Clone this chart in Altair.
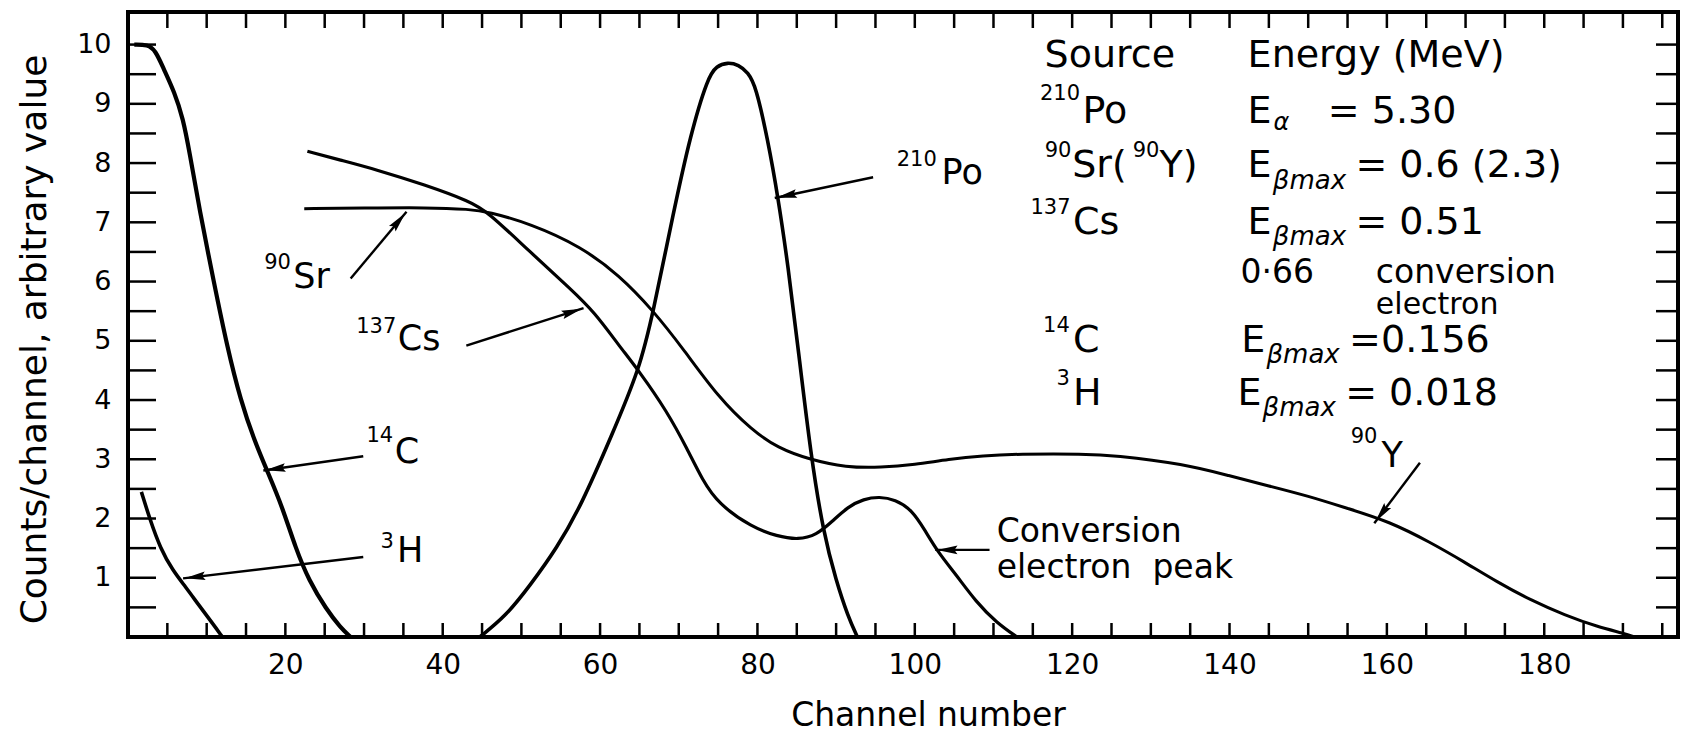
import math
import altair as alt
import pandas as pd

# ---------------- data ----------------
h3_x = [1.7, 2.8, 4.1, 5.7, 7.3, 9.1, 10.8, 12.0]
h3_y = [2.45, 1.98, 1.5, 1.12, 0.85, 0.52, 0.22, 0.0]

c14_x = [0.8, 2.5, 3.5, 4.5, 5.9, 7.0, 7.8, 9.1, 10.9, 12.6, 14.3, 16.1, 17.8, 19.6, 21.3, 23.0, 25.2, 27.0, 28.3]
c14_y = [10.0, 10.0, 9.9, 9.6, 9.2, 8.75, 8.2, 7.2, 6.0, 4.9, 4.0, 3.3, 2.77, 2.2, 1.5, 0.95, 0.47, 0.16, 0.0]

cs_x = [22.8, 27.0, 31.3, 37.8, 43.5, 45.7, 51.1, 56.3, 59.3, 62.4, 65.0, 68.5, 71.1, 73.0, 75.0,
        79.3, 82.5, 85.2, 87.5, 89.5, 91.5, 93.5, 95.5, 97.5, 99.6, 101.3, 103.0, 105.2, 107.8, 110.4, 113.0]
cs_y = [8.2, 8.05, 7.9, 7.63, 7.35, 7.18, 6.5, 5.87, 5.48, 4.92, 4.48, 3.81, 3.17, 2.65, 2.25,
        1.85, 1.7, 1.64, 1.72, 1.95, 2.2, 2.33, 2.37, 2.32, 2.15, 1.8, 1.42, 1.06, 0.59, 0.24, 0.0]

sry_x = [22.4, 30.0, 38.0, 43.5, 45.7, 51.1, 57.6, 62.4, 66.7, 70.7, 75.0, 79.3, 82.6, 86.5, 91.3,
         95.7, 100.0, 104.3, 108.7, 113.0, 121.7, 125.2, 134.3, 140.0, 145.0, 150.0, 155.0, 160.3,
         165.5, 169.8, 174.0, 178.3, 182.6, 186.8, 190.2, 191.5]
sry_y = [7.23, 7.24, 7.25, 7.22, 7.18, 6.98, 6.59, 6.11, 5.52, 4.84, 4.05, 3.49, 3.19, 3.0, 2.86,
         2.86, 2.91, 3.0, 3.06, 3.09, 3.09, 3.07, 2.92, 2.72, 2.55, 2.38, 2.17, 1.95,
         1.6, 1.27, 0.93, 0.62, 0.37, 0.17, 0.06, 0.0]

po_x = [44.7, 48.0, 51.1, 54.5, 57.6, 61.5, 65.0, 66.7, 69.3, 71.5, 73.7, 74.8, 76.2, 77.6, 78.8,
        79.8, 81.3, 82.6, 83.9, 85.2, 86.8, 88.4, 90.0, 91.5, 92.7]
po_y = [0.0, 0.35, 0.87, 1.5, 2.22, 3.41, 4.52, 5.45, 7.15, 8.49, 9.45, 9.64, 9.7, 9.66, 9.53,
        9.3, 8.4, 7.44, 6.26, 4.84, 3.05, 1.75, 0.95, 0.35, 0.0]

x_tick_labels = [20, 40, 60, 80, 100, 120, 140, 160, 180]
y_tick_labels = [1, 2, 3, 4, 5, 6, 7, 8, 9, 10]
x_minor = list(range(5, 200, 5))
y_minor = [v / 2 for v in range(1, 21)]

# annotation texts: (text, x, y, font size, kind)  kind: L=left, R=right (superscript), I=italic subscript
curve_labels = [
    ("90", 20.7, 6.21, 21, "R"), ("Sr", 21.0, 5.89, 35, "L"),
    ("137", 34.1, 5.13, 21, "R"), ("Cs", 34.3, 4.84, 35, "L"),
    ("14", 33.7, 3.29, 21, "R"), ("C", 33.9, 2.94, 35, "L"),
    ("3", 33.8, 1.50, 21, "R"), ("H", 34.2, 1.27, 35, "L"),
    ("210", 102.8, 7.95, 21, "R"), ("Po", 103.4, 7.65, 35, "L"),
    ("90", 158.8, 3.27, 21, "R"), ("Y", 159.3, 2.87, 35, "L"),
    ("Conversion", 110.4, 1.60, 33, "L"), ("electron\u00a0 peak", 110.4, 1.0, 33, "L"),
]
table_labels = [
    ("Source", 116.5, 9.62, 38, "L"), ("Energy (MeV)", 142.3, 9.62, 38, "L"),
    ("210", 121.0, 9.07, 21, "R"), ("Po", 121.3, 8.68, 38, "L"),
    ("E", 142.3, 8.68, 38, "L"), ("\u03b1", 145.6, 8.56, 24, "I"), ("= 5.30", 152.5, 8.68, 38, "L"),
    ("90", 119.9, 8.10, 21, "R"), ("Sr(", 120.0, 7.76, 38, "L"), ("90", 127.7, 8.10, 21, "L"),
    ("Y)", 131.1, 7.76, 38, "L"),
    ("E", 142.3, 7.76, 38, "L"), ("\u03b2max", 145.5, 7.57, 26, "I"), ("= 0.6 (2.3)", 156.0, 7.76, 38, "L"),
    ("137", 119.8, 7.14, 21, "R"), ("Cs", 120.1, 6.80, 38, "L"),
    ("E", 142.3, 6.80, 38, "L"), ("\u03b2max", 145.5, 6.61, 26, "I"), ("= 0.51", 156.0, 6.80, 38, "L"),
    ("0\u00b766", 141.4, 5.97, 33, "L"), ("conversion", 158.6, 5.97, 33, "L"),
    ("electron", 158.6, 5.45, 30, "L"),
    ("14", 119.7, 5.15, 21, "R"), ("C", 120.1, 4.81, 38, "L"),
    ("E", 141.5, 4.81, 38, "L"), ("\u03b2max", 144.7, 4.62, 26, "I"), ("=0.156", 155.2, 4.81, 38, "L"),
    ("3", 119.7, 4.25, 21, "R"), ("H", 120.1, 3.92, 38, "L"),
    ("E", 141.0, 3.92, 38, "L"), ("\u03b2max", 144.2, 3.73, 26, "I"), ("= 0.018", 154.7, 3.92, 38, "L"),
]
# arrows: (x start, y start, x tip, y tip)
arrows = [
    (28.3, 6.05, 35.4, 7.18),
    (43.0, 4.92, 57.9, 5.55),
    (29.9, 3.05, 17.2, 2.81),
    (29.9, 1.35, 7.0, 0.99),
    (94.7, 7.76, 82.2, 7.41),
    (109.5, 1.47, 102.6, 1.47),
    (164.2, 2.94, 158.4, 1.92),
]

# ---------------- chart ----------------
W, H = 1550, 625
XMAX, YMAX = 197.0, 10.55
FONT = "DejaVu Sans"
xs = alt.Scale(domain=[0, XMAX], nice=False, zero=False)
ys = alt.Scale(domain=[0, YMAX], nice=False, zero=False)

x_axis = alt.Axis(values=x_tick_labels, ticks=False, domain=False, grid=False,
                  labelFont=FONT, labelFontSize=28, labelColor="black", labelPadding=14,
                  title="Channel number", titleFont=FONT, titleFontSize=33, titleFontWeight="normal",
                  titleColor="black", titleX=800, titleY=88, titleBaseline="alphabetic", titleAlign="center")
y_axis = alt.Axis(values=y_tick_labels, ticks=False, domain=False, grid=False,
                  labelFont=FONT, labelFontSize=27, labelColor="black", labelPadding=17,
                  title="Counts/channel,  arbitrary value", titleFont=FONT, titleFontSize=36,
                  titleFontWeight="normal", titleColor="black", titleX=-94, titleY=327,
                  titleBaseline="middle", titleAlign="center")

X = lambda f: alt.X(f, scale=xs, axis=x_axis)
Y = lambda f: alt.Y(f, scale=ys, axis=y_axis)


def curve(xv, yv, sw):
    df = pd.DataFrame({"x": xv, "y": yv})
    return alt.Chart(df).mark_line(color="black", strokeWidth=sw, interpolate="basis").encode(
        x=X("x:Q"), y=Y("y:Q"))


layers = [
    curve(h3_x, h3_y, 3.6),
    curve(c14_x, c14_y, 4.2),
    curve(cs_x, cs_y, 3.2),
    curve(sry_x, sry_y, 3.0),
    curve(po_x, po_y, 3.6),
]

# inward ticks on all four sides
xt = pd.DataFrame({"v": x_minor})
yt = pd.DataFrame({"v": y_minor})
layers.append(alt.Chart(xt).mark_rule(color="black", strokeWidth=2.5).encode(
    x=X("v:Q"), y=alt.value(H), y2=alt.value(H - 14)))
layers.append(alt.Chart(xt).mark_rule(color="black", strokeWidth=2.5).encode(
    x=X("v:Q"), y=alt.value(0), y2=alt.value(16)))
layers.append(alt.Chart(yt).mark_rule(color="black", strokeWidth=2.5).encode(
    y=Y("v:Q"), x=alt.value(0), x2=alt.value(28)))
layers.append(alt.Chart(yt).mark_rule(color="black", strokeWidth=2.5).encode(
    y=Y("v:Q"), x=alt.value(W), x2=alt.value(W - 22)))

# arrows
pxx, pxy = W / XMAX, H / YMAX
rows, heads = [], []
for sx, sy, tx, ty in arrows:
    dxp = (tx - sx) * pxx
    dyp = -(ty - sy) * pxy
    L = math.hypot(dxp, dyp)
    ux, uy = dxp / L, dyp / L
    back = 12.0
    hx = tx - ux * back / pxx
    hy = ty + uy * back / pxy
    ang = math.degrees(math.atan2(ux, -uy)) % 360
    rows.append({"x": sx, "y": sy, "x2": tx, "y2": ty})
    heads.append({"x": hx, "y": hy, "a": ang})
adf = pd.DataFrame(rows)
hdf = pd.DataFrame(heads)
layers.append(alt.Chart(adf).mark_rule(color="black", strokeWidth=2.4).encode(
    x=X("x:Q"), y=Y("y:Q"), x2="x2:Q", y2="y2:Q"))
layers.append(alt.Chart(hdf).mark_point(shape="M0,-1L0.42,1L0,0.7L-0.42,1Z", filled=True, color="black",
                                        size=420, opacity=1, strokeWidth=0).encode(
    x=X("x:Q"), y=Y("y:Q"), angle=alt.Angle("a:Q", scale=None)))

# texts
tdf = pd.DataFrame(curve_labels + table_labels, columns=["t", "x", "y", "fs", "k"])
for kind, align, style in [("L", "left", "normal"), ("R", "right", "normal"), ("I", "left", "italic")]:
    sub = tdf[tdf["k"] == kind]
    layers.append(alt.Chart(sub).mark_text(align=align, baseline="alphabetic", font=FONT,
                                           fontStyle=style, color="black").encode(
        x=X("x:Q"), y=Y("y:Q"),
        text="t:N", size=alt.Size("fs:Q", scale=None, legend=None)))

chart = alt.layer(*layers).properties(
    width=W, height=H,
    autosize=alt.AutoSizeParams(type="none"),
    padding={"left": 128, "top": 12, "right": 3, "bottom": 96},
    background="white",
).configure_view(stroke="black", strokeWidth=4)

chart.save("out.html", embed_options={"renderer": "svg", "actions": False})
